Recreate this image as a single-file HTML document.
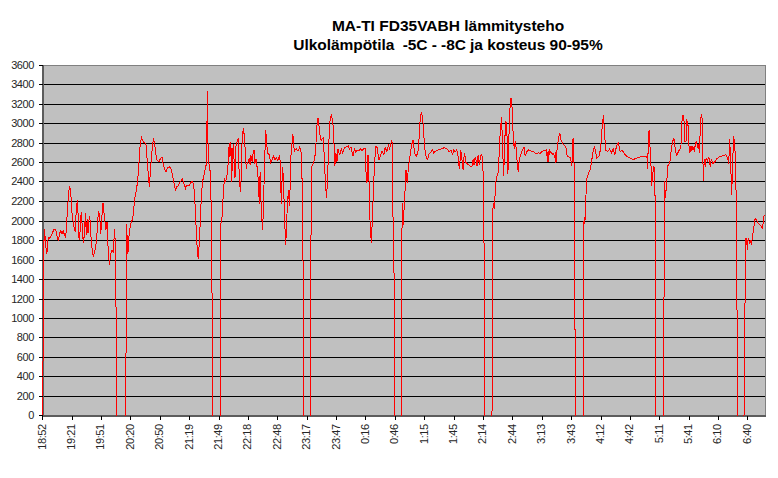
<!DOCTYPE html><html><head><meta charset="utf-8"><style>html,body{margin:0;padding:0;background:#fff;width:778px;height:478px;overflow:hidden}</style></head><body><svg width="778" height="478" viewBox="0 0 778 478" style="display:block">
<rect x="0" y="0" width="778" height="478" fill="#fff"/>
<rect x="42" y="65" width="723" height="350" fill="#c0c0c0"/>
<rect x="42" y="396" width="724" height="1" fill="#000"/>
<rect x="42" y="376" width="724" height="1" fill="#000"/>
<rect x="42" y="357" width="724" height="1" fill="#000"/>
<rect x="42" y="337" width="724" height="1" fill="#000"/>
<rect x="42" y="318" width="724" height="1" fill="#000"/>
<rect x="42" y="299" width="724" height="1" fill="#000"/>
<rect x="42" y="279" width="724" height="1" fill="#000"/>
<rect x="42" y="260" width="724" height="1" fill="#000"/>
<rect x="42" y="240" width="724" height="1" fill="#000"/>
<rect x="42" y="221" width="724" height="1" fill="#000"/>
<rect x="42" y="201" width="724" height="1" fill="#000"/>
<rect x="42" y="181" width="724" height="1" fill="#000"/>
<rect x="42" y="162" width="724" height="1" fill="#000"/>
<rect x="42" y="143" width="724" height="1" fill="#000"/>
<rect x="42" y="123" width="724" height="1" fill="#000"/>
<rect x="42" y="104" width="724" height="1" fill="#000"/>
<rect x="42" y="84" width="724" height="1" fill="#000"/>
<rect x="42" y="65" width="724" height="1" fill="#808080"/>
<rect x="765" y="65" width="1" height="351" fill="#808080"/>
<rect x="42" y="65" width="2" height="352" fill="#5c5c5c"/>
<rect x="42" y="415" width="724" height="2" fill="#5c5c5c"/>
<defs><clipPath id="pc"><rect x="0" y="0" width="778" height="416"/></clipPath></defs>
<path clip-path="url(#pc)" d="M42.5,416 L43.3,330 L43.5,262 L43.8,248.6 L44.3,228.9 L45.1,236.6 L46,247.8 L46.9,253.8 L47.7,241.8 L48.6,237.5 L49.9,238.3 L51.1,235.7 L52.3,233.2 L53.7,229.7 L55.1,228.9 L56.3,231.5 L57.5,239.2 L58.5,240 L59.7,233.2 L60.9,230.6 L62,234 L63.2,230.6 L64.4,234.9 L65.4,236.6 L66.6,228.9 L67.4,205.7 L68.3,200.6 L69.2,186.9 L70.4,188.6 L71.2,198.9 L72.2,216 L73.4,222.9 L74.3,228.9 L75.2,231.5 L76.4,207.4 L77.4,199.7 L78.1,214.3 L79.1,240 L80.3,229.7 L81.2,211.7 L82,222.9 L82.9,238.3 L83.7,242.6 L84.6,228 L85.5,213.4 L86.3,234.9 L87.2,219.5 L88,233.2 L89.2,217.7 L89.8,216.6 L90.5,229.5 L91.5,243.2 L92.7,254.3 L93.6,256 L95,250 L96.1,243.2 L97.3,229.5 L98.4,210.6 L99.6,215.7 L100.8,233.7 L101.8,217.4 L103,202.9 L103.9,212.3 L104.7,219.2 L105.9,230.3 L107,221.7 L108.2,250 L109.4,264.6 L110.7,254.3 L112.1,250 L113.3,252.6 L114.5,229.5 L115.2,241.5 L116.3,330 L116.6,416 L125.8,416 L126.1,330 L126.5,224.3 L127.9,253.5 L128.7,239.7 L129.6,229.5 L130.5,226 L131.3,221.7 L132.7,219.2 L133.9,207.2 L135,196.9 L136.7,188.6 L138.1,175.4 L139.1,160.7 L140.3,143.2 L141.5,137.3 L142.5,140.2 L144,142.4 L145.9,143.9 L146.9,156.4 L148.1,172.5 L149.4,187.1 L150.3,172.5 L151.3,159.3 L152.3,147.6 L153.5,138.1 L154.7,144.6 L155.7,153.4 L157.2,160.7 L159.1,161.5 L160.5,158.6 L162,157.1 L163,162.9 L164.5,169.5 L165.9,171.7 L167.4,168.1 L169.3,166.6 L170.8,168.1 L172.2,173.9 L174,182.7 L175.5,190 L176.9,186.4 L178,186 L180.2,181.7 L182.3,179.1 L184.1,183.9 L185.6,188.3 L187.1,185 L188.9,186 L190.6,182.8 L192.1,181.3 L193.7,183.9 L195,203.5 L196,225.2 L197.1,247 L198.2,258.9 L199.3,242.6 L200.4,218.7 L201.5,192.6 L203,179.6 L204.5,173 L205.4,166.9 L206.6,164 L207.3,90.6 L207.8,131 L208.3,159.3 L209.1,165 L210.6,174 L211.8,250 L212.6,416 L220.4,416 L220.7,300 L221,223 L222.1,216.5 L223.7,186 L224.7,179.6 L225.8,181.7 L227.5,171.9 L228.3,161.8 L229.2,142.6 L230,156.8 L230.9,141.8 L231.7,181.9 L232.5,153.5 L233.4,144.3 L234.2,163.5 L235,177.7 L235.9,146.8 L237,141.8 L238.1,138.4 L238.7,161.8 L239.7,183.6 L240.6,192 L241.4,170.2 L242.2,136.7 L243.4,128.4 L244.6,138.4 L245.4,155.1 L246.3,168.5 L247.1,163.5 L248.1,161.8 L249.3,157.7 L250.1,165.2 L250.9,155.1 L252.1,161.8 L253.1,153.5 L254,150.1 L254.8,163.5 L256,159.3 L256.8,165.2 L257.6,170.2 L258.5,185.3 L259.3,203.8 L260.1,172 L261.4,213 L262.7,229.6 L264,185 L264.8,156.8 L265.7,130 L266.8,145.1 L268,153.5 L269.4,155.1 L270.5,162.7 L271.9,160.2 L273.5,156 L275,160.2 L276.5,157.7 L277.8,160.3 L279.2,156.4 L280.5,162.9 L281.2,203.5 L282.6,166.8 L283.6,182.5 L284.4,213.9 L285.7,245.3 L287,213.9 L288.3,190.4 L289.6,206.1 L290.9,156.4 L292.8,134.2 L294.3,151.2 L296.2,148.5 L298,151.2 L299.6,147.2 L300.9,149.8 L301.9,169.5 L303.5,300 L303.7,416 L310.3,416 L310.5,300 L311.3,200 L311.8,166.8 L313.9,161.6 L315.8,151.2 L316,142.7 L317.1,123.8 L318.1,118 L319.2,128 L320.2,136.4 L321.3,140.6 L322.3,138.5 L323.4,137.4 L324.4,161.5 L325.5,184.5 L326.5,198.1 L327.6,178.2 L328.6,146.8 L330.1,119.6 L331.3,114.4 L332.8,121.7 L333.8,138.5 L334.9,165.7 L335.9,153.1 L337,161.5 L338,148.9 L339.7,155.2 L341.2,148.9 L342.6,153.1 L344.3,147.9 L346.4,146.8 L348.1,145.8 L349.5,148.9 L351,146.8 L352.2,153.1 L353.3,156.3 L354.3,148.9 L355.8,152.1 L357.3,150 L358.9,151 L360.6,148.9 L362.1,151 L363.5,148.9 L365,147.9 L365.3,153.5 L366.3,180.2 L367,182.7 L368,155.1 L368.8,172.7 L370,220.4 L371.3,243 L372.6,212.9 L373.8,180.2 L375.6,146.3 L377.1,147.6 L378.8,160.1 L380.6,155.1 L382.1,151.3 L383.9,155.1 L385.1,147.6 L386.9,151.3 L388.4,145.1 L389.6,148.8 L391.4,141.3 L392.1,142.6 L392.8,205.3 L394.5,300 L394.7,416 L401.3,416 L401.5,300 L402.2,202.8 L403.2,225.4 L404.7,197.8 L406,170.2 L407.2,182.7 L408.5,166.4 L410.2,155.1 L411.5,145.1 L413.2,140 L414.7,153.9 L416.5,156.4 L418.2,150.1 L419.2,136.8 L420.4,115.1 L421.4,113.4 L422.5,115.9 L423.7,133.5 L425,150.2 L426.4,157.8 L427.6,159.4 L429.2,153.6 L430.9,151.9 L432.6,149.4 L433.7,152.7 L435.4,151.1 L437.6,150.2 L440.1,149.4 L442.6,148.6 L444.3,147.2 L446,148.6 L447.6,149.4 L449.3,151.9 L451,150.2 L452.7,154.4 L453.8,150.2 L455.2,151.9 L456.5,150.2 L457.7,152.7 L458.9,165.3 L459.6,168.6 L460.6,150.2 L461.4,153 L462.2,162.6 L463.1,170.1 L464.3,153.4 L465.1,156 L466,162.6 L467.7,164.3 L470.2,166 L471.9,166.4 L473.1,159.3 L474,164.7 L475.2,156.8 L476.2,161 L477,166 L478.1,155.5 L479.4,164.7 L480.6,155.1 L481.7,154.2 L482.9,162.6 L484.8,300 L485,416 L492,416 L492.3,300 L492.7,213.3 L493.3,202.8 L494.3,209 L495.8,181.9 L496.8,177 L498,172.9 L498.9,160.3 L499.5,143.6 L500.6,126.8 L501.6,117.4 L502.6,147.8 L503.7,176 L504.7,141.5 L505.8,120.6 L506.8,126.8 L507.9,173.9 L508.9,137.3 L510,108 L511,97.6 L512.1,108 L513.1,133.1 L514.2,148.8 L515.2,141.5 L516.2,148.8 L517.3,164.5 L518.3,171.8 L519.4,158.2 L521.1,154 L522.5,149.9 L524,146.7 L525.2,156.1 L526.7,151.9 L528.8,149.9 L530.9,150.9 L534,151.9 L534.9,152.9 L536.8,153.3 L538.7,152.9 L540.3,153.3 L541.8,151.4 L543.7,150.8 L545.6,150.2 L546.6,149.5 L547.4,162.1 L548.1,150.8 L548.7,161.5 L549.3,149.5 L550.3,152 L551.6,153.3 L552.8,154.5 L553.7,153.9 L554.6,157.7 L555.4,152 L556,162.7 L556.9,151.4 L557.7,144.5 L558.5,138.8 L559.4,133.8 L560,134.4 L560.9,140.1 L562.1,142 L563.4,144.5 L565,145.8 L565.9,147 L566.7,153.9 L567.5,156.4 L569.2,157.1 L570.3,157.7 L571.1,161.5 L571.9,165.9 L572.6,141.4 L573.2,137.6 L573.9,146.4 L574.5,240 L575.5,416 L583.2,416 L583.2,300 L583.4,227 L584.4,216.9 L584.9,223.6 L585.7,200 L587,177.9 L588.8,172.8 L590,170.3 L591.3,164 L592.6,154 L594.3,146.5 L595.6,151.5 L596.8,157.8 L598.8,156.5 L600.6,149 L601.9,130.1 L603.4,115 L604.6,132.6 L605.6,150.2 L607.6,151.5 L609.6,149 L611.4,152.7 L613.2,149 L614.7,155.2 L616.4,146.5 L618.2,142.7 L620.2,151.5 L622.2,150.2 L624.7,154 L627.2,156.5 L630,157.8 L630.6,158.7 L633.5,159.6 L635.9,158.3 L638.2,157.4 L641,156.8 L643.8,156.4 L646.1,156.1 L647.2,158.3 L647.6,168.7 L648.4,139.5 L649.1,130.1 L649.9,145.1 L650.8,160.2 L651.7,185.6 L652.9,173.4 L653.8,165.8 L654.8,171.5 L655.9,300 L656,416 L663.9,416 L664,300 L664.5,180.9 L665.5,197.9 L666.8,180.9 L667.9,165.8 L669.8,163 L671.1,150.8 L672.5,141.4 L674,138.5 L675.5,150.8 L676.8,155.5 L678.3,151.7 L680,148.9 L681,144.8 L682,120.9 L683,114.9 L684,120.9 L685,141.8 L686,140.8 L686.9,120.9 L687.9,122.9 L688.9,144.8 L689.9,152.7 L690.9,145.8 L691.9,150.7 L692.9,146.7 L694.3,150.7 L695.5,143.8 L696.5,140.8 L697.5,146.7 L698.5,144.8 L699.5,152.7 L700.5,120.9 L701.5,113.9 L702.3,120.9 L702.9,158.7 L703.4,180.5 L704.2,158.7 L705.2,166.6 L706.2,157.7 L707.4,160.7 L708.8,156.7 L710.2,166.6 L711.4,158.7 L712.8,163.6 L714.8,161.7 L716.8,158.7 L719.7,156.7 L722.7,155.7 L725.7,154.7 L727.7,157.7 L728.7,163.6 L729.7,138.8 L730.7,164.6 L731.7,194.5 L732.7,160.7 L733.7,135.8 L734.7,144.8 L735.8,164.6 L737.9,416 L744,416 L745.4,260 L746,237.6 L746.7,240.2 L747.3,250.2 L747.9,240.2 L748.5,238.9 L749.6,242.7 L750.4,241.4 L751.3,243.9 L752.3,238.9 L753.3,231.4 L754.2,225.1 L755.1,218.8 L756.1,219.4 L757.3,222 L759.2,224.5 L761.1,226.3 L762.6,228.2 L763.4,220.1 L764.2,215.1 L765,215.7" fill="none" stroke="#ff0000" stroke-width="1" stroke-linejoin="miter" shape-rendering="crispEdges"/>
<rect x="39" y="415" width="4" height="1" fill="#000"/>
<text x="34" y="419" text-anchor="end" font-family="Liberation Sans" font-size="11" fill="#262626" letter-spacing="-0.4">0</text>
<rect x="39" y="396" width="4" height="1" fill="#000"/>
<text x="34" y="400" text-anchor="end" font-family="Liberation Sans" font-size="11" fill="#262626" letter-spacing="-0.4">200</text>
<rect x="39" y="376" width="4" height="1" fill="#000"/>
<text x="34" y="380" text-anchor="end" font-family="Liberation Sans" font-size="11" fill="#262626" letter-spacing="-0.4">400</text>
<rect x="39" y="357" width="4" height="1" fill="#000"/>
<text x="34" y="361" text-anchor="end" font-family="Liberation Sans" font-size="11" fill="#262626" letter-spacing="-0.4">600</text>
<rect x="39" y="337" width="4" height="1" fill="#000"/>
<text x="34" y="341" text-anchor="end" font-family="Liberation Sans" font-size="11" fill="#262626" letter-spacing="-0.4">800</text>
<rect x="39" y="318" width="4" height="1" fill="#000"/>
<text x="34" y="322" text-anchor="end" font-family="Liberation Sans" font-size="11" fill="#262626" letter-spacing="-0.4">1000</text>
<rect x="39" y="299" width="4" height="1" fill="#000"/>
<text x="34" y="303" text-anchor="end" font-family="Liberation Sans" font-size="11" fill="#262626" letter-spacing="-0.4">1200</text>
<rect x="39" y="279" width="4" height="1" fill="#000"/>
<text x="34" y="283" text-anchor="end" font-family="Liberation Sans" font-size="11" fill="#262626" letter-spacing="-0.4">1400</text>
<rect x="39" y="260" width="4" height="1" fill="#000"/>
<text x="34" y="264" text-anchor="end" font-family="Liberation Sans" font-size="11" fill="#262626" letter-spacing="-0.4">1600</text>
<rect x="39" y="240" width="4" height="1" fill="#000"/>
<text x="34" y="244" text-anchor="end" font-family="Liberation Sans" font-size="11" fill="#262626" letter-spacing="-0.4">1800</text>
<rect x="39" y="221" width="4" height="1" fill="#000"/>
<text x="34" y="225" text-anchor="end" font-family="Liberation Sans" font-size="11" fill="#262626" letter-spacing="-0.4">2000</text>
<rect x="39" y="201" width="4" height="1" fill="#000"/>
<text x="34" y="205" text-anchor="end" font-family="Liberation Sans" font-size="11" fill="#262626" letter-spacing="-0.4">2200</text>
<rect x="39" y="181" width="4" height="1" fill="#000"/>
<text x="34" y="185" text-anchor="end" font-family="Liberation Sans" font-size="11" fill="#262626" letter-spacing="-0.4">2400</text>
<rect x="39" y="162" width="4" height="1" fill="#000"/>
<text x="34" y="166" text-anchor="end" font-family="Liberation Sans" font-size="11" fill="#262626" letter-spacing="-0.4">2600</text>
<rect x="39" y="143" width="4" height="1" fill="#000"/>
<text x="34" y="147" text-anchor="end" font-family="Liberation Sans" font-size="11" fill="#262626" letter-spacing="-0.4">2800</text>
<rect x="39" y="123" width="4" height="1" fill="#000"/>
<text x="34" y="127" text-anchor="end" font-family="Liberation Sans" font-size="11" fill="#262626" letter-spacing="-0.4">3000</text>
<rect x="39" y="104" width="4" height="1" fill="#000"/>
<text x="34" y="108" text-anchor="end" font-family="Liberation Sans" font-size="11" fill="#262626" letter-spacing="-0.4">3200</text>
<rect x="39" y="84" width="4" height="1" fill="#000"/>
<text x="34" y="88" text-anchor="end" font-family="Liberation Sans" font-size="11" fill="#262626" letter-spacing="-0.4">3400</text>
<rect x="39" y="65" width="4" height="1" fill="#000"/>
<text x="34" y="69" text-anchor="end" font-family="Liberation Sans" font-size="11" fill="#262626" letter-spacing="-0.4">3600</text>
<rect x="42" y="416" width="1" height="4" fill="#000"/>
<text transform="translate(45.70,424.2) rotate(-90)" text-anchor="end" font-family="Liberation Sans" font-size="11" fill="#262626" letter-spacing="-0.4">18:52</text>
<rect x="72" y="416" width="1" height="4" fill="#000"/>
<text transform="translate(75.08,424.2) rotate(-90)" text-anchor="end" font-family="Liberation Sans" font-size="11" fill="#262626" letter-spacing="-0.4">19:21</text>
<rect x="101" y="416" width="1" height="4" fill="#000"/>
<text transform="translate(104.46,424.2) rotate(-90)" text-anchor="end" font-family="Liberation Sans" font-size="11" fill="#262626" letter-spacing="-0.4">19:51</text>
<rect x="130" y="416" width="1" height="4" fill="#000"/>
<text transform="translate(133.84,424.2) rotate(-90)" text-anchor="end" font-family="Liberation Sans" font-size="11" fill="#262626" letter-spacing="-0.4">20:20</text>
<rect x="160" y="416" width="1" height="4" fill="#000"/>
<text transform="translate(163.22,424.2) rotate(-90)" text-anchor="end" font-family="Liberation Sans" font-size="11" fill="#262626" letter-spacing="-0.4">20:50</text>
<rect x="189" y="416" width="1" height="4" fill="#000"/>
<text transform="translate(192.60,424.2) rotate(-90)" text-anchor="end" font-family="Liberation Sans" font-size="11" fill="#262626" letter-spacing="-0.4">21:19</text>
<rect x="219" y="416" width="1" height="4" fill="#000"/>
<text transform="translate(221.98,424.2) rotate(-90)" text-anchor="end" font-family="Liberation Sans" font-size="11" fill="#262626" letter-spacing="-0.4">21:49</text>
<rect x="248" y="416" width="1" height="4" fill="#000"/>
<text transform="translate(251.36,424.2) rotate(-90)" text-anchor="end" font-family="Liberation Sans" font-size="11" fill="#262626" letter-spacing="-0.4">22:18</text>
<rect x="277" y="416" width="1" height="4" fill="#000"/>
<text transform="translate(280.74,424.2) rotate(-90)" text-anchor="end" font-family="Liberation Sans" font-size="11" fill="#262626" letter-spacing="-0.4">22:48</text>
<rect x="307" y="416" width="1" height="4" fill="#000"/>
<text transform="translate(310.12,424.2) rotate(-90)" text-anchor="end" font-family="Liberation Sans" font-size="11" fill="#262626" letter-spacing="-0.4">23:17</text>
<rect x="336" y="416" width="1" height="4" fill="#000"/>
<text transform="translate(339.50,424.2) rotate(-90)" text-anchor="end" font-family="Liberation Sans" font-size="11" fill="#262626" letter-spacing="-0.4">23:47</text>
<rect x="365" y="416" width="1" height="4" fill="#000"/>
<text transform="translate(368.88,424.2) rotate(-90)" text-anchor="end" font-family="Liberation Sans" font-size="11" fill="#262626" letter-spacing="-0.4">0:16</text>
<rect x="395" y="416" width="1" height="4" fill="#000"/>
<text transform="translate(398.26,424.2) rotate(-90)" text-anchor="end" font-family="Liberation Sans" font-size="11" fill="#262626" letter-spacing="-0.4">0:46</text>
<rect x="424" y="416" width="1" height="4" fill="#000"/>
<text transform="translate(427.64,424.2) rotate(-90)" text-anchor="end" font-family="Liberation Sans" font-size="11" fill="#262626" letter-spacing="-0.4">1:15</text>
<rect x="454" y="416" width="1" height="4" fill="#000"/>
<text transform="translate(457.02,424.2) rotate(-90)" text-anchor="end" font-family="Liberation Sans" font-size="11" fill="#262626" letter-spacing="-0.4">1:45</text>
<rect x="483" y="416" width="1" height="4" fill="#000"/>
<text transform="translate(486.40,424.2) rotate(-90)" text-anchor="end" font-family="Liberation Sans" font-size="11" fill="#262626" letter-spacing="-0.4">2:14</text>
<rect x="512" y="416" width="1" height="4" fill="#000"/>
<text transform="translate(515.78,424.2) rotate(-90)" text-anchor="end" font-family="Liberation Sans" font-size="11" fill="#262626" letter-spacing="-0.4">2:44</text>
<rect x="542" y="416" width="1" height="4" fill="#000"/>
<text transform="translate(545.16,424.2) rotate(-90)" text-anchor="end" font-family="Liberation Sans" font-size="11" fill="#262626" letter-spacing="-0.4">3:13</text>
<rect x="571" y="416" width="1" height="4" fill="#000"/>
<text transform="translate(574.54,424.2) rotate(-90)" text-anchor="end" font-family="Liberation Sans" font-size="11" fill="#262626" letter-spacing="-0.4">3:43</text>
<rect x="601" y="416" width="1" height="4" fill="#000"/>
<text transform="translate(603.92,424.2) rotate(-90)" text-anchor="end" font-family="Liberation Sans" font-size="11" fill="#262626" letter-spacing="-0.4">4:12</text>
<rect x="630" y="416" width="1" height="4" fill="#000"/>
<text transform="translate(633.30,424.2) rotate(-90)" text-anchor="end" font-family="Liberation Sans" font-size="11" fill="#262626" letter-spacing="-0.4">4:42</text>
<rect x="659" y="416" width="1" height="4" fill="#000"/>
<text transform="translate(662.68,424.2) rotate(-90)" text-anchor="end" font-family="Liberation Sans" font-size="11" fill="#262626" letter-spacing="-0.4">5:11</text>
<rect x="689" y="416" width="1" height="4" fill="#000"/>
<text transform="translate(692.06,424.2) rotate(-90)" text-anchor="end" font-family="Liberation Sans" font-size="11" fill="#262626" letter-spacing="-0.4">5:41</text>
<rect x="718" y="416" width="1" height="4" fill="#000"/>
<text transform="translate(721.44,424.2) rotate(-90)" text-anchor="end" font-family="Liberation Sans" font-size="11" fill="#262626" letter-spacing="-0.4">6:10</text>
<rect x="747" y="416" width="1" height="4" fill="#000"/>
<text transform="translate(750.82,424.2) rotate(-90)" text-anchor="end" font-family="Liberation Sans" font-size="11" fill="#262626" letter-spacing="-0.4">6:40</text>
<text x="448" y="31" text-anchor="middle" font-family="Liberation Sans" font-weight="bold" font-size="15.5" fill="#000" style="white-space:pre">MA-TI FD35VABH lämmitysteho</text>
<text x="448" y="50" text-anchor="middle" font-family="Liberation Sans" font-weight="bold" font-size="15.5" fill="#000" letter-spacing="-0.06" style="white-space:pre">Ulkolämpötila  -5C - -8C ja kosteus 90-95%</text>
</svg></body></html>
